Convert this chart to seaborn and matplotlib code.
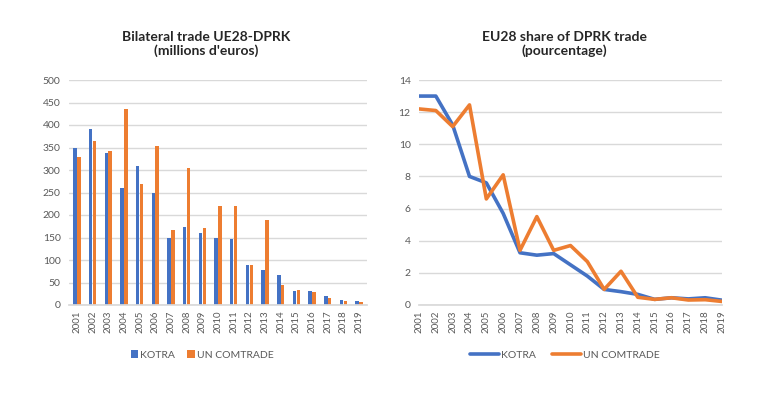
import matplotlib
matplotlib.use("Agg")
import matplotlib.pyplot as plt
import seaborn as sns
import pandas as pd
from matplotlib.lines import Line2D
from matplotlib.patches import Patch

years = [str(y) for y in range(2001, 2020)]
trade_kotra = [350, 391, 338, 261, 310, 248, 150, 173, 161, 150, 147, 90, 78, 67, 31, 31, 20, 12, 9]
trade_comtrade = [329, 365, 342, 436, 270, 353, 166, 305, 171, 221, 221, 90, 190, 44, 33, 29, 16, 9, 7]
share_kotra = [13.0, 13.0, 11.2, 8.0, 7.6, 5.7, 3.25, 3.1, 3.2, 2.5, 1.8, 0.97, 0.83, 0.66, 0.35, 0.45, 0.38, 0.45, 0.3]
share_comtrade = [12.2, 12.1, 11.1, 12.45, 6.6, 8.1, 3.4, 5.5, 3.4, 3.7, 2.7, 0.97, 2.1, 0.48, 0.35, 0.45, 0.31, 0.33, 0.22]
series = ["KOTRA", "UN COMTRADE"]

sns.set_theme(style="white")
plt.rcParams["font.family"] = ["Lato", "DejaVu Sans"]
txt = "#595959"
colors = ["#4472C4", "#ED7D31"]

df_trade = pd.DataFrame({
    "year": years * 2,
    "value": trade_kotra + trade_comtrade,
    "source": [series[0]] * len(years) + [series[1]] * len(years),
})
df_share = pd.DataFrame({
    "year": list(range(len(years))) * 2,
    "value": share_kotra + share_comtrade,
    "source": [series[0]] * len(years) + [series[1]] * len(years),
})

fig = plt.figure(figsize=(7.82, 3.93), dpi=100)
ax1 = fig.add_axes([69 / 782, 1 - 305 / 393, 298 / 782, 225 / 393])
ax2 = fig.add_axes([419 / 782, 1 - 305 / 393, 303 / 782, 225 / 393])

sns.barplot(data=df_trade, x="year", y="value", hue="source", palette=colors,
            width=0.5, gap=0.12, ax=ax1, legend=False, saturation=1,
            linewidth=0, edgecolor="none")
ax1.set_ylim(0, 500)
ax1.set_yticks(range(0, 501, 50))
ax1.set_xlim(-0.5, len(years) - 0.5)

sns.lineplot(data=df_share, x="year", y="value", hue="source", palette=colors,
             linewidth=2.6, ax=ax2, legend=False)
ax2.set_ylim(0, 14)
ax2.set_yticks(range(0, 15, 2))
ax2.set_xlim(0, len(years) - 1)
ax2.set_xticks(range(len(years)))
ax2.set_xticklabels(years)

for ax in (ax1, ax2):
    ax.set_xlabel("")
    ax.set_ylabel("")
    ax.grid(axis="y", color="#d9d9d9", linewidth=1)
    ax.set_axisbelow(True)
    for s in ["top", "right", "left"]:
        ax.spines[s].set_visible(False)
    ax.spines["bottom"].set_color("#d9d9d9")
    ax.tick_params(axis="x", labelrotation=90, labelsize=7, colors=txt, length=0, pad=4)
    ax.tick_params(axis="y", labelsize=7.5, colors=txt, length=0, pad=6)

fig.text(206 / 782, 1 - 44 / 393, "Bilateral trade UE28-DPRK\n(millions d'euros)",
         ha="center", va="center", fontsize=10, fontweight="bold", color="#262626",
         linespacing=1.2)
fig.text(564 / 782, 1 - 44 / 393, "EU28 share of DPRK trade\n(pourcentage)",
         ha="center", va="center", fontsize=10, fontweight="bold", color="#262626",
         linespacing=1.2)

h1 = [Patch(facecolor=c, edgecolor="none") for c in colors]
fig.legend(h1, series, loc="center", bbox_to_anchor=(202 / 782, 1 - 355 / 393), ncol=2,
           frameon=False, fontsize=7.5, handlelength=0.7, handleheight=0.7,
           handletextpad=0.2, columnspacing=1.2, labelcolor=txt)
h2 = [Line2D([0], [0], color=c, linewidth=2.6) for c in colors]
fig.legend(h2, series, loc="center", bbox_to_anchor=(565 / 782, 1 - 355 / 393), ncol=2,
           frameon=False, fontsize=7.5, handlelength=2.8, handletextpad=0.2,
           columnspacing=1.5, labelcolor=txt)

fig.savefig("out.png", dpi=100)
